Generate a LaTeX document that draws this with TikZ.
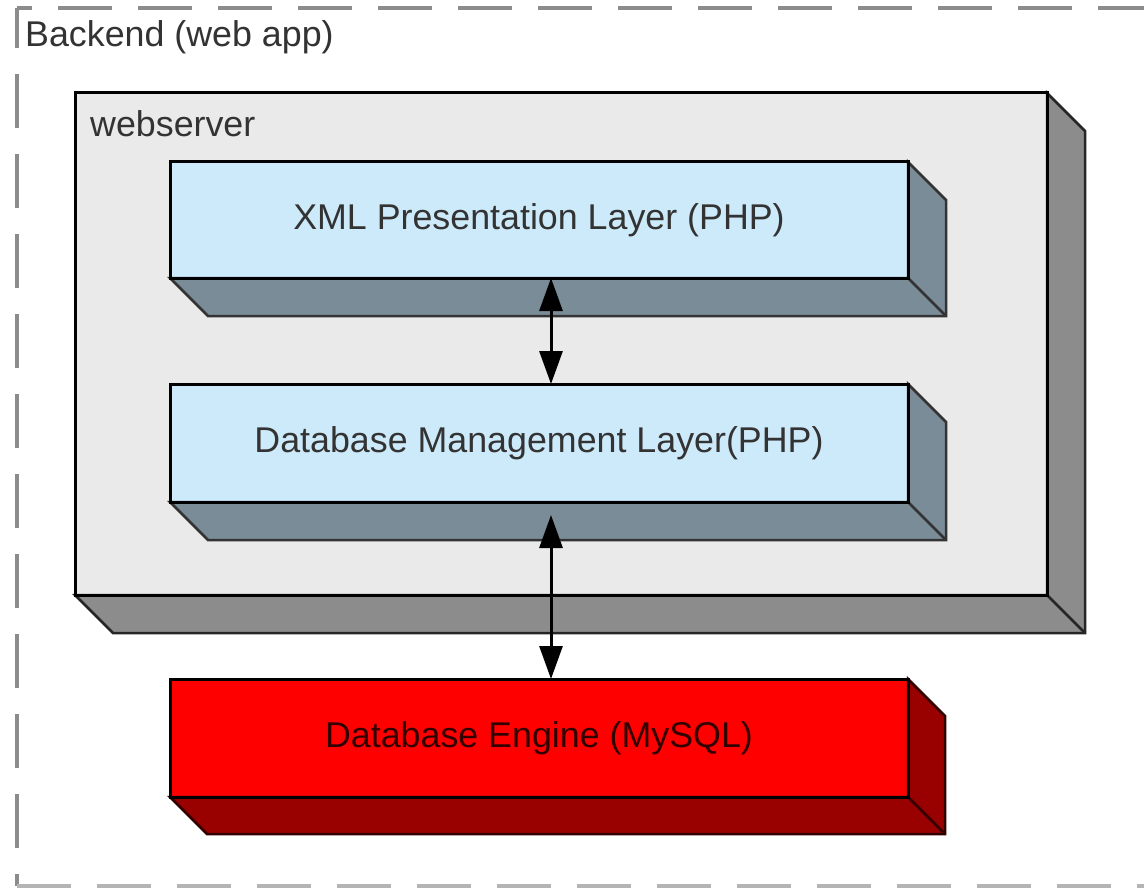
\documentclass[tikz,border=0pt]{standalone}
\usepackage{fontspec}
\setmainfont{Liberation Sans}
\usetikzlibrary{arrows.meta,calc}
\definecolor{wsfront}{RGB}{234,234,234}
\definecolor{wsside}{RGB}{140,140,140}
\definecolor{blfront}{RGB}{205,234,250}
\definecolor{blside}{RGB}{122,140,152}
\definecolor{rdfront}{RGB}{255,0,0}
\definecolor{rdside}{RGB}{153,0,0}
\definecolor{txtgray}{RGB}{51,51,51}
\definecolor{txtred}{RGB}{51,0,0}
\definecolor{framegray}{RGB}{140,140,140}
\definecolor{framelight}{RGB}{180,180,180}
\newcommand\depthfaces[4]{%
  \filldraw[fill=#3, draw=#4, line width=2.5pt, line join=miter]
    (#1.north east) -- ++(#2,#2) -- ($(#1.south east)+(#2,#2)$)
    -- ($(#1.south west)+(#2,#2)$) -- (#1.south west) -- (#1.south east) -- cycle;
  \draw[#4, line width=2.5pt] (#1.south east) -- ++(#2,#2);
  \draw[black, line width=3pt] (#1.north west) rectangle (#1.south east);
}
\begin{document}
\begin{tikzpicture}[x=1pt,y=-1pt,
  frame/.style={draw=framegray, line width=4pt, dash pattern=on 54pt off 26pt},
  front/.style={draw=black, line width=3pt, rectangle, inner sep=0pt, outer sep=0pt, anchor=north west,
    font=\fontsize{35.8pt}{43pt}\selectfont},
  lbl/.style={inner sep=0pt, text=txtgray, font=\fontsize{35.8pt}{43pt}\selectfont},
  arr/.style={line width=3pt, black, {Triangle[length=33pt,width=23pt]}-{Triangle[length=33pt,width=23pt]}}]
\useasboundingbox (0,0) rectangle (1144,888);
\fill[white] (0,0) rectangle (1144,888);
\begin{scope}
\clip (0,0) rectangle (1144,888);
\draw[frame, dash phase=39pt] (17,8) -- (1160,8);
\draw[frame, dash phase=14pt] (17,8) -- (17,886);
\draw[frame, draw=framelight] (17,886) -- (1160,886);
\end{scope}
\node[lbl, anchor=base west] (backend) at (25,47) {Backend (web app)};
% webserver
\node[front, fill=wsfront, minimum width=972pt, minimum height=502pt] (ws) at (75,93) {};
\depthfaces{ws}{38}{wsside}{black!85}
\node[lbl, anchor=base west] (wslabel) at (90,137) {webserver};
% XML layer
\node[front, fill=blfront, text=txtgray, minimum width=738pt, minimum height=116pt] (xml) at (170,162) {XML Presentation Layer (PHP)};
\depthfaces{xml}{38}{blside}{txtgray}
% DB management layer
\node[front, fill=blfront, text=txtgray, minimum width=738pt, minimum height=118pt] (dbm) at (170,384) {Database Management Layer(PHP)};
\depthfaces{dbm}{38}{blside}{txtgray}
% DB engine
\node[front, fill=rdfront, text=txtred, minimum width=738pt, minimum height=118pt] (eng) at (170,679) {Database Engine (MySQL)};
\depthfaces{eng}{37}{rdside}{txtred}
% arrows
\draw[arr] ($(xml.south)+(12,0)$) -- ($(dbm.north)+(12,0)$);
\draw[arr, shorten <=13pt] ($(dbm.south)+(12,0)$) -- ($(eng.north)+(12,0)$);
\end{tikzpicture}
\end{document}
